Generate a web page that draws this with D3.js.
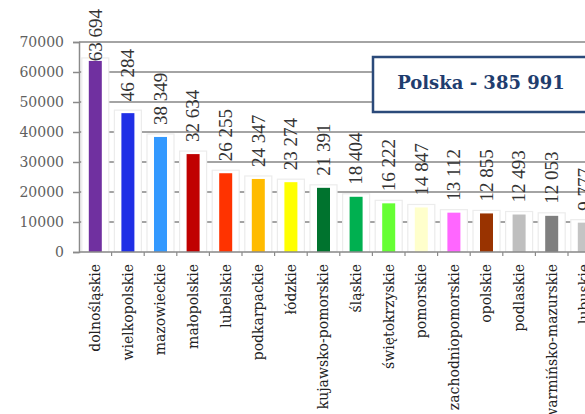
<!DOCTYPE html>
<html>
<head>
<meta charset="utf-8">
<script src="https://cdn.jsdelivr.net/npm/d3@7"></script>
<style>
  html, body { margin: 0; padding: 0; background: #fff; }
  svg { display: block; }
</style>
</head>
<body>
<svg id="chart" width="585" height="414"></svg>
<script>
// data
var regions = ["dolnośląskie","wielkopolskie","mazowieckie","małopolskie","lubelskie","podkarpackie",
  "łódzkie","kujawsko-pomorskie","śląskie","świętokrzyskie","pomorskie","zachodniopomorskie",
  "opolskie","podlaskie","warmińsko-mazurskie","lubuskie"];
var values = [63694,46284,38349,32634,26255,24347,23274,21391,18404,16222,14847,13112,12855,12493,12053,9777];
var barColors = ["#7030a0","#1f2fe6","#3399ff","#c00000","#ff3300","#ffbb00","#ffff00","#00732e",
  "#00b050","#66ff33","#ffffcc","#ff66ff","#993300","#bfbfbf","#7f7f7f","#c4c4c4"];
var yTicks = [0,10000,20000,30000,40000,50000,60000,70000];
var totalLabel = "Polska - 385 991";

var W = 585, H = 414;
var plotLeft = 79, plotTop = 42, plotBottom = 252, band = 32.6;

var pl = d3.formatLocale({decimal: ",", thousands: " ", grouping: [3], currency: ["", ""]});
var fmt = pl.format(",d");

var svg = d3.select("#chart");

var x = d3.scaleBand()
    .domain(regions)
    .range([plotLeft, plotLeft + band * regions.length])
    .paddingInner(0).paddingOuter(0);

var y = d3.scaleLinear()
    .domain([0, 70000])
    .range([plotBottom, plotTop]);

var barW = 13, haloPad = 7;

//Gridlines
svg.append("g").selectAll("line.grid")
    .data(yTicks.filter(function(d){return d > 0;}))
    .enter().append("line")
    .attr("class", "grid")
    .attr("x1", plotLeft).attr("x2", W)
    .attr("y1", function(d){return y(d);})
    .attr("y2", function(d){return y(d);})
    .attr("stroke", "#868686")
    .attr("stroke-width", 1.6);

//Halo behind bars (hides the grid)
svg.append("g").selectAll("rect.halo")
    .data(values)
    .enter().append("rect")
    .attr("class", "halo")
    .attr("x", function(d,i){return x(regions[i]) + x.bandwidth()/2 - barW/2 - haloPad;})
    .attr("y", function(d){return y(d) - 3;})
    .attr("width", barW + haloPad*2)
    .attr("height", function(d){return plotBottom - y(d) + 3;})
    .attr("fill", "#fff")
    .attr("stroke", "#ececec")
    .attr("stroke-width", 1.2);

//Bars
svg.append("g").selectAll("rect.bar")
    .data(values)
    .enter().append("rect")
    .attr("class", "bar")
    .attr("x", function(d,i){return x(regions[i]) + x.bandwidth()/2 - barW/2;})
    .attr("y", function(d){return y(d);})
    .attr("width", barW)
    .attr("height", function(d){return plotBottom - y(d);})
    .attr("fill", function(d,i){return barColors[i];});

//Y axis
var yAxis = svg.append("g")
    .attr("transform", "translate(" + plotLeft + ",0)")
    .call(d3.axisLeft(y).tickValues(yTicks).tickSize(6).tickPadding(9).tickFormat(d3.format("d")));
yAxis.select(".domain").attr("stroke", "#8a8a8a").attr("stroke-width", 1.5);
yAxis.selectAll(".tick line").attr("stroke", "#8a8a8a").attr("stroke-width", 1.5);
yAxis.selectAll(".tick text")
    .attr("fill", "#606060")
    .attr("font-family", "DejaVu Serif")
    .attr("font-size", "14px");

//X axis
var xAxis = svg.append("g")
    .attr("transform", "translate(0," + plotBottom + ")");
xAxis.append("line")
    .attr("x1", plotLeft).attr("x2", W)
    .attr("stroke", "#8a8a8a").attr("stroke-width", 1.5);
xAxis.selectAll("line.xt")
    .data(regions)
    .enter().append("line")
    .attr("class", "xt")
    .attr("x1", function(d){return x(d) + x.bandwidth();})
    .attr("x2", function(d){return x(d) + x.bandwidth();})
    .attr("y1", 0).attr("y2", 4)
    .attr("stroke", "#8a8a8a").attr("stroke-width", 1.2);

//Category labels
svg.append("g").selectAll("text.cat")
    .data(regions)
    .enter().append("text")
    .attr("class", "cat")
    .attr("transform", function(d){return "translate(" + (x(d) + x.bandwidth()/2) + "," + (plotBottom + 12) + ") rotate(-90)";})
    .attr("dy", "0.35em")
    .attr("text-anchor", "end")
    .attr("font-family", "DejaVu Serif")
    .attr("font-size", "14px")
    .attr("fill", "#222")
    .text(function(d){return d;});

//Total box
svg.append("rect")
    .attr("x", 373).attr("y", 57)
    .attr("width", 240).attr("height", 55)
    .attr("fill", "#fff")
    .attr("stroke", "#2b4a7a")
    .attr("stroke-width", 2.5);
svg.append("text")
    .attr("x", 481).attr("y", 89)
    .attr("text-anchor", "middle")
    .attr("font-family", "DejaVu Serif")
    .attr("font-weight", "bold")
    .attr("font-size", "18px")
    .attr("fill", "#1f3d6e")
    .text(totalLabel);

//Value labels
var vl = svg.append("g").selectAll("text.val")
    .data(values)
    .enter().append("text")
    .attr("class", "val")
    .attr("text-anchor", "start")
    .attr("dy", "0.33em")
    .attr("font-family", "Liberation Serif")
    .attr("font-size", "19px")
    .attr("fill", "#333")
    .text(function(d){return fmt(d);});
vl.attr("transform", function(d,i){
    var len = this.getComputedTextLength();
    var b = Math.max(y(d) - 12, 9 + len);
    return "translate(" + (x(regions[i]) + x.bandwidth()/2) + "," + b + ") rotate(-90)";
});
</script>
</body>
</html>
